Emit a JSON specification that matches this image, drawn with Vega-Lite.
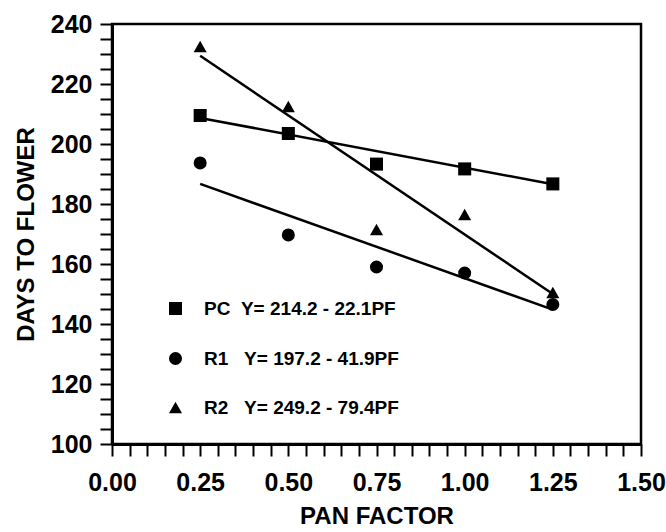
{
  "$schema": "https://vega.github.io/schema/vega-lite/v6.json",
  "width": 529,
  "height": 420,
  "autosize": {"type": "none"},
  "padding": {"left": 112, "top": 24, "right": 25, "bottom": 88},
  "background": "white",
  "config": {
    "view": {"stroke": "black", "strokeWidth": 2.5},
    "font": "Liberation Sans",
    "axis": {
      "grid": false,
      "domainColor": "black",
      "domainWidth": 3,
      "tickColor": "black",
      "tickWidth": 2,
      "labelColor": "black",
      "labelFont": "Liberation Sans",
      "labelFontWeight": "bold",
      "labelFontSize": 25,
      "titleColor": "black",
      "titleFont": "Liberation Sans",
      "titleFontWeight": "bold",
      "titleFontSize": 24
    }
  },
  "datasets": {
    "pts": [
      {"pf": 0.25, "days": 209.5, "group": "PC"},
      {"pf": 0.5, "days": 203.5, "group": "PC"},
      {"pf": 0.75, "days": 193.3, "group": "PC"},
      {"pf": 1.0, "days": 191.7, "group": "PC"},
      {"pf": 1.25, "days": 186.7, "group": "PC"},
      {"pf": 0.25, "days": 193.7, "group": "R1"},
      {"pf": 0.5, "days": 169.7, "group": "R1"},
      {"pf": 0.75, "days": 159.0, "group": "R1"},
      {"pf": 1.0, "days": 157.0, "group": "R1"},
      {"pf": 1.25, "days": 146.5, "group": "R1"},
      {"pf": 0.25, "days": 232.5, "group": "R2"},
      {"pf": 0.5, "days": 212.5, "group": "R2"},
      {"pf": 0.75, "days": 171.5, "group": "R2"},
      {"pf": 1.0, "days": 176.5, "group": "R2"},
      {"pf": 1.25, "days": 150.5, "group": "R2"}
    ],
    "fits": [
      {"pf": 0.25, "days": 208.7, "group": "PC"},
      {"pf": 1.25, "days": 186.6, "group": "PC"},
      {"pf": 0.25, "days": 186.7, "group": "R1"},
      {"pf": 1.25, "days": 144.8, "group": "R1"},
      {"pf": 0.25, "days": 229.4, "group": "R2"},
      {"pf": 1.25, "days": 150.0, "group": "R2"}
    ]
  },
  "encoding": {
    "x": {
      "field": "pf",
      "type": "quantitative",
      "title": "PAN FACTOR",
      "scale": {"domain": [0, 1.5], "nice": false, "zero": false},
      "axis": {
        "values": [0, 0.05, 0.1, 0.15, 0.2, 0.25, 0.3, 0.35, 0.4, 0.45, 0.5, 0.55, 0.6, 0.65, 0.7, 0.75, 0.8, 0.85, 0.9, 0.95, 1.0, 1.05, 1.1, 1.15, 1.2, 1.25, 1.3, 1.35, 1.4, 1.45, 1.5],
        "labelExpr": "abs(datum.value*4 - round(datum.value*4)) < 0.01 ? format(datum.value, '.2f') : ''",
        "tickSize": 12,
        "labelPadding": 14,
        "titlePadding": 9,
        "labelFontWeight": "bold",
        "labelFlush": false,
        "labelOverlap": false,
        "encode": {
          "ticks": {
            "update": {
              "y2": {"signal": "abs(datum.value*4 - round(datum.value*4)) < 0.01 ? 12 : 7"}
            }
          }
        }
      }
    },
    "y": {
      "field": "days",
      "type": "quantitative",
      "title": "DAYS TO FLOWER",
      "scale": {"domain": [100, 240], "nice": false, "zero": false},
      "axis": {
        "values": [100, 105, 110, 115, 120, 125, 130, 135, 140, 145, 150, 155, 160, 165, 170, 175, 180, 185, 190, 195, 200, 205, 210, 215, 220, 225, 230, 235, 240],
        "labelExpr": "datum.value % 20 == 0 ? datum.value : ''",
        "tickSize": 12,
        "labelPadding": 8,
        "titlePadding": 12,
        "labelFontWeight": "bold",
        "labelFlush": false,
        "labelOverlap": false,
        "encode": {
          "ticks": {
            "update": {
              "x2": {"signal": "datum.value % 20 == 0 ? -12 : -6"}
            }
          }
        }
      }
    }
  },
  "layer": [
    {
      "data": {"name": "fits"},
      "mark": {"type": "line", "color": "black", "strokeWidth": 2.5},
      "encoding": {"detail": {"field": "group"}}
    },
    {
      "data": {"name": "pts"},
      "mark": {"type": "point", "filled": true, "color": "black", "opacity": 1, "size": 170},
      "encoding": {
        "shape": {
          "field": "group",
          "type": "nominal",
          "scale": {"domain": ["PC", "R1", "R2"], "range": ["square", "circle", "triangle-up"]},
          "legend": {
            "orient": "none",
            "legendX": 54,
            "legendY": 275,
            "title": null,
            "labelFont": "Liberation Sans",
            "labelFontWeight": "bold",
            "labelFontSize": 19,
            "labelColor": "black",
            "labelOffset": 19,
            "rowPadding": 29,
            "symbolSize": 170,
            "symbolFillColor": "black",
            "symbolStrokeColor": "black",
            "labelLimit": 400,
            "labelExpr": "datum.label == 'PC' ? 'PC\u00a0\u00a0Y= 214.2 - 22.1PF' : datum.label == 'R1' ? 'R1\u00a0\u00a0\u00a0Y= 197.2 - 41.9PF' : 'R2\u00a0\u00a0\u00a0Y= 249.2 - 79.4PF'"
          }
        }
      }
    }
  ]
}
